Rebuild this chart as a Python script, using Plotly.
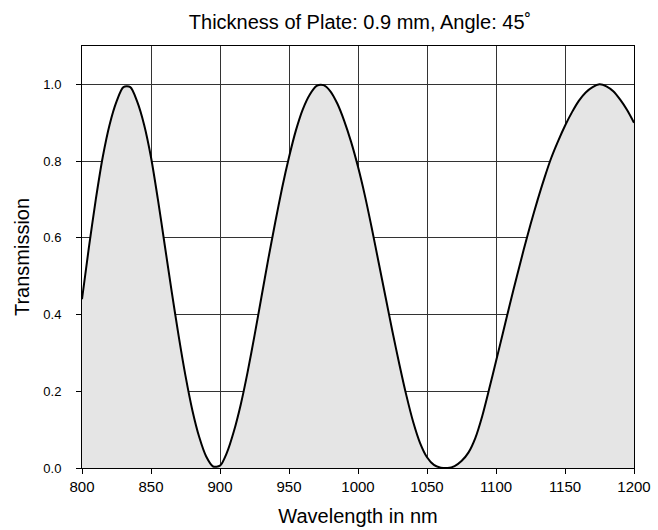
import plotly.graph_objects as go

wavelength = list(range(800, 1201, 5))
transmission = [
    0.44, 0.575, 0.70, 0.81, 0.895, 0.955, 0.993, 0.993, 0.955, 0.895,  # 800-845
    0.81, 0.70, 0.58, 0.46, 0.345, 0.24, 0.15, 0.08, 0.03, 0.004,       # 850-895
    0.006, 0.04, 0.095, 0.165, 0.25, 0.345, 0.445, 0.545, 0.64, 0.73,   # 900-945
    0.81, 0.88, 0.935, 0.973, 0.996, 0.998, 0.982, 0.95, 0.905, 0.85,   # 950-995
    0.785, 0.71, 0.625, 0.535, 0.445, 0.355, 0.27, 0.19, 0.12, 0.065,   # 1000-1045
    0.028, 0.008, 0.001, 0.0, 0.005, 0.018, 0.04, 0.078, 0.135, 0.205,  # 1050-1095
    0.278, 0.352, 0.426, 0.498, 0.568, 0.635, 0.697, 0.755, 0.808, 0.852,  # 1100-1145
    0.892, 0.927, 0.957, 0.979, 0.993, 1.0, 0.995, 0.982, 0.96, 0.933,  # 1150-1195
    0.90,                                                                # 1200
]

x_ticks = [800, 850, 900, 950, 1000, 1050, 1100, 1150, 1200]
y_ticks = [0.0, 0.2, 0.4, 0.6, 0.8, 1.0]

FONT = "Liberation Sans, Arial, sans-serif"

fig = go.Figure()
fig.add_trace(go.Scatter(
    x=wavelength, y=transmission, mode="lines",
    line=dict(color="black", width=2, shape="spline", smoothing=0.8),
    fill="tozeroy", fillcolor="#e5e5e5", hoverinfo="skip", showlegend=False,
))

fig.update_layout(
    width=658, height=530,
    margin=dict(l=82, r=24, t=46, b=62),
    paper_bgcolor="white", plot_bgcolor="white",
    font=dict(family=FONT, color="black"),
    title=dict(text="Thickness of Plate: 0.9 mm, Angle: 45˚", x=360 / 658, xanchor="center",
               y=1 - 22 / 530, yanchor="middle", font=dict(size=20, family=FONT, color="black")),
)
fig.update_xaxes(
    range=[800, 1200], tickvals=x_ticks, ticktext=[str(v) for v in x_ticks],
    showgrid=True, gridcolor="#333333", gridwidth=1,
    showline=True, linecolor="black", linewidth=1, mirror=True,
    ticks="outside", ticklen=5, tickcolor="black", automargin=False,
    tickfont=dict(size=15, family=FONT), zeroline=False,
    title=dict(text="Wavelength in nm", font=dict(size=20, family=FONT), standoff=14),
)
fig.update_yaxes(
    range=[0, 1.1], tickvals=y_ticks, ticktext=[f"{v:.1f}" for v in y_ticks],
    showgrid=True, gridcolor="#333333", gridwidth=1,
    showline=True, linecolor="black", linewidth=1, mirror=True,
    ticks="outside", ticklen=5, tickcolor="black", automargin=False,
    tickfont=dict(size=13, family=FONT), zeroline=False, ticklabelstandoff=12,
    title=dict(text="Transmission", font=dict(size=20, family=FONT), standoff=8),
)

fig.write_html("out.html")
